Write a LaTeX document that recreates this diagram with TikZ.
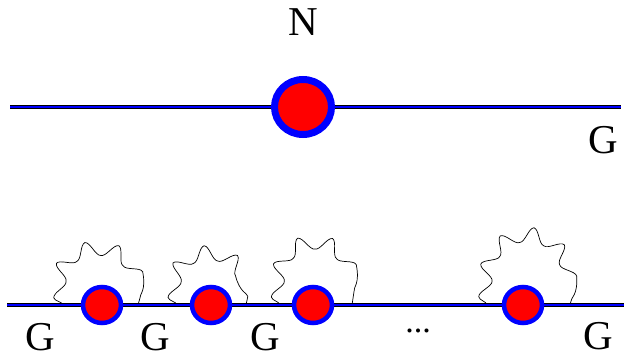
\documentclass[tikz,border=0pt]{standalone}
\usepackage{fontspec}
\setmainfont{Liberation Serif}
\usetikzlibrary{shapes.geometric,decorations.pathmorphing}

\begin{document}
\begin{tikzpicture}[x=1pt,y=-1pt,
    track/.style={draw=black,double=blue,double distance=1.8pt,line width=0.7pt},
    bigdot/.style={ellipse,draw=blue,fill=red,line width=7pt,inner sep=0pt,minimum width=57pt,minimum height=55pt},
    smalldot/.style={ellipse,draw=blue,fill=red,line width=4.5pt,inner sep=0pt,minimum width=38pt,minimum height=36pt},
    wiggle/.style={draw=black,line width=0.7pt,decorate,decoration={snake,segment length=30pt,amplitude=7pt}},
    lab/.style={inner sep=0pt,font=\fontsize{41}{41}\selectfont}]
                \useasboundingbox (0,0) rectangle (624,358);
                % upper line
                \coordinate (TL) at (10, 107);
                \coordinate (TR) at (621, 107);
                \path[track] (TL) -- (TR);
                \node[bigdot](N0)at(303, 107){};
                \node[lab](N)at(303, 22){N};
                \node[lab](G0)at(603, 140){G};
                % lower line
                \coordinate (BL) at (7, 305);
                \coordinate (BR) at (624, 305);
                \coordinate (a1) at (63, 305);
                \coordinate (b1) at (138, 305);
                \coordinate (a2) at (177, 305);
                \coordinate (b2) at (246, 305);
                \coordinate (a3) at (280, 305);
                \coordinate (b3) at (352, 305);
                \coordinate (a4) at (487, 305);
                \coordinate (b4) at (570, 305);
                \path[wiggle] (a1) .. controls +(-18, -66) and +(14, -66) .. (b1);
                \path[wiggle] (a2) .. controls +(-14, -60) and +(10, -60) .. (b2);
                \path[wiggle] (a3) .. controls +(-14, -74) and +(14, -74) .. (b3);
                \path[wiggle] (a4) .. controls +(-12, -84) and +(12, -84) .. (b4);
                \path[track] (BL) -- (BR);
                \node[smalldot](1)at(102, 305){};
                \node[smalldot](2)at(211, 305){};
                \node[smalldot](3)at(313, 305){};
                \node[smalldot](4)at(523, 305){};
                \node[lab](G1)at(40, 337){G};
                \node[lab](G2)at(155, 337){G};
                \node[lab](G3)at(265, 337){G};
                \node[lab](G4)at(598, 336){G};
                \node[lab,anchor=base,font=\fontsize{34}{34}\selectfont](dots)at(418, 332){...};
            \end{tikzpicture}
\end{document}
